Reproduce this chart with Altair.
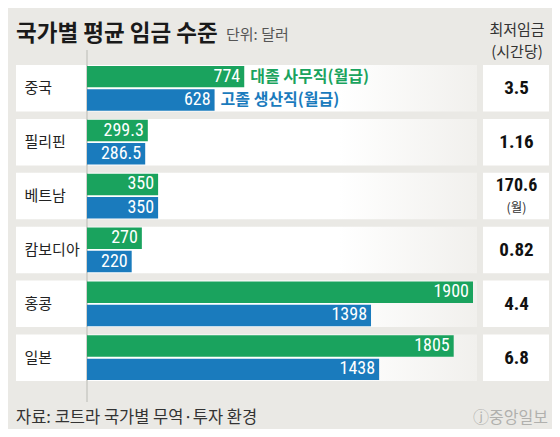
import altair as alt
import pandas as pd

countries = ["중국", "필리핀", "베트남", "캄보디아", "홍콩", "일본"]
college_wage = [774, 299.3, 350, 270, 1900, 1805]
highschool_wage = [628, 286.5, 350, 220, 1398, 1438]
min_wage = ["3.5", "1.16", "170.6", "0.82", "4.4", "6.8"]
min_wage_note = ["", "", "(월)", "", "", ""]
series_names = ["대졸 사무직(월급)", "고졸 생산직(월급)"]
series_colors = ["#1aa35e", "#1a7bbd"]

title_text = "국가별 평균 임금 수준"
unit_text = "단위: 달러"
header_lines = ["최저임금", "(시간당)"]
source_text = "자료: 코트라 국가별 무역·투자 환경"
logo_text = "ⓙ중앙일보"

KR = "Noto Sans CJK KR"
NUM = "Liberation Sans Narrow, Roboto Condensed, Roboto, sans-serif"

rows = []
for c, a, b in zip(countries, college_wage, highschool_wage):
    rows.append({"country": c, "series": series_names[0], "value": a, "label": f"{a:g}"})
    rows.append({"country": c, "series": series_names[1], "value": b, "label": f"{b:g}"})
bars_df = pd.DataFrame(rows)
legend_df = bars_df[bars_df["country"] == countries[0]]
country_df = pd.DataFrame({"country": countries, "wage": min_wage, "note": min_wage_note})
one = pd.DataFrame({"k": [0]})

W, H = 386, 316

x_scale = alt.Scale(domain=[0, 1900], nice=False, zero=True)
y_axis = alt.Axis(
    title=None, domain=False, ticks=False, tickSize=0, grid=False,
    labelAlign="left", labelPadding=63, labelFont=KR, labelFontSize=15,
    labelColor="#222222", zindex=1,
)
y_enc = alt.Y("country:N", scale=alt.Scale(domain=countries, paddingInner=0.135, paddingOuter=0), axis=y_axis)
yoff = alt.YOffset("series:N", scale=alt.Scale(domain=series_names, paddingInner=0.08, paddingOuter=0.04))
color_enc = alt.Color("series:N", scale=alt.Scale(domain=series_names, range=series_colors), legend=None)
x_enc = alt.X("value:Q", scale=x_scale, axis=None)

grad = alt.Gradient(
    gradient="linear", x1=0, x2=1, y1=0, y2=0,
    stops=[alt.GradientStop(color="#ffffff", offset=0),
           alt.GradientStop(color="#ffffff", offset=0.7),
           alt.GradientStop(color="#f1f0ed", offset=1)],
)

row_bg = alt.Chart(country_df).mark_bar(color=grad).encode(
    y=y_enc, x=alt.value(-71), x2=alt.value(390)
)
wage_box = alt.Chart(country_df).mark_bar(color="#ffffff").encode(
    y=y_enc, x=alt.value(396), x2=alt.value(462)
)
vline = alt.Chart(one).mark_rule(color="#d2d2cd", strokeWidth=2).encode(
    x=alt.X(datum=0, scale=x_scale, axis=None), y=alt.value(-15), y2=alt.value(337)
)
bars = alt.Chart(bars_df).mark_bar().encode(x=x_enc, y=y_enc, yOffset=yoff, color=color_enc)
bar_labels = alt.Chart(bars_df).mark_text(
    align="right", baseline="middle", dx=-4, color="#ffffff", font=NUM, fontSize=18
).encode(x=x_enc, y=y_enc, yOffset=yoff, text="label:N")
legend_labels = alt.Chart(legend_df).mark_text(
    align="left", baseline="middle", dx=6, font=KR, fontSize=16, fontWeight="bold"
).encode(x=x_enc, y=y_enc, yOffset=yoff, text="series:N", color=color_enc)

wage_plain = alt.Chart(country_df).transform_filter("datum.note == ''").mark_text(
    align="center", baseline="middle", font=NUM, fontSize=19, fontWeight="bold", color="#111111"
).encode(x=alt.value(429.5), y=y_enc, text="wage:N")
wage_noted = alt.Chart(country_df).transform_filter("datum.note != ''").mark_text(
    align="center", baseline="middle", dy=-10, font=NUM, fontSize=18, fontWeight="bold", color="#111111"
).encode(x=alt.value(429.5), y=y_enc, text="wage:N")
wage_note = alt.Chart(country_df).transform_filter("datum.note != ''").mark_text(
    align="center", baseline="middle", dy=12, font=KR, fontSize=12.5, color="#333333"
).encode(x=alt.value(429.5), y=y_enc, text="note:N")


def label(text, x, y, **kw):
    return alt.Chart(pd.DataFrame({"t": [text]})).mark_text(baseline="middle", **kw).encode(
        text="t:N", x=alt.value(x), y=alt.value(y)
    )


title = label(title_text, -71, -31, align="left", font=KR, fontSize=22.5, fontWeight="bold", color="#1a1a1a")
unit = label(unit_text, 139, -30, align="left", font=KR, fontSize=15, color="#555555")
head1 = label(header_lines[0], 430, -35, align="center", font=KR, fontSize=15, color="#333333")
head2 = label(header_lines[1], 430, -13, align="center", font=KR, fontSize=15, color="#333333")
source = label(source_text, -71, 353, align="left", font=KR, fontSize=16.5, color="#333333")
logo = label(logo_text, 461, 353, align="right", font=KR, fontSize=16, color="#b0b0ad")

chart = alt.layer(
    row_bg, wage_box, vline, bars, bar_labels, legend_labels,
    wage_plain, wage_noted, wage_note,
    title, unit, head1, head2, source, logo,
).properties(
    width=W, height=H,
    padding={"left": 79, "top": 57, "right": 79, "bottom": 48},
    autosize=alt.AutoSizeParams(type="none"),
    background="#eae9e5",
).configure_view(stroke=None)

chart.save("out.html", embed_options={"renderer": "svg", "actions": False})
